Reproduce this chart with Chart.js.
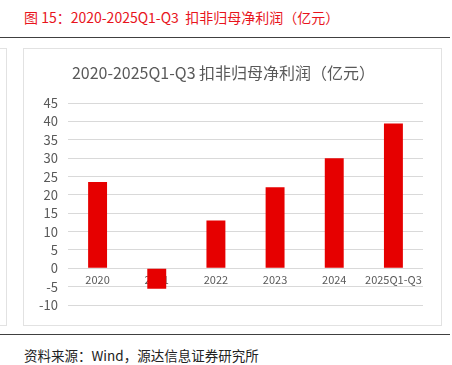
<!DOCTYPE html>
<html>
<head>
<meta charset="utf-8">
<script src="https://cdn.jsdelivr.net/npm/chart.js@4"></script>
<style>
    body { margin: 0; background: #fff; width: 452px; height: 365px; position: relative; overflow: hidden;
           font-family: "Noto Sans CJK SC", "Noto Sans", sans-serif; }
    .fig-title { position: absolute; left: 24px; top: 7px; font-size: 14px; color: #e8141c; white-space: nowrap; }
    .rule { position: absolute; left: 0; width: 450px; height: 1px; background: #404040; }
    .side-box { position: absolute; left: -100px; top: 48px; width: 105px; height: 276px; border: 1px solid #e2e2e2; }
    .chart-box { position: absolute; left: 23px; top: 48px; width: 417px; height: 276px; border: 1px solid #e2e2e2; }
    .source { position: absolute; left: 24px; top: 345px; font-size: 13.5px; color: #222; white-space: nowrap; }
</style>
</head>
<body>
<div class="fig-title">图 15：2020-2025Q1-Q3&nbsp; 扣非归母净利润（亿元）</div>
<div class="rule" style="top:37px"></div>
<div class="side-box"></div>
<div class="chart-box"><canvas id="profit-chart" width="417" height="276"></canvas></div>
<div class="rule" style="top:334px"></div>
<div class="source">资料来源：Wind，源达信息证券研究所</div>

<script>
// Chart data
const categories = ['2020', '2021', '2022', '2023', '2024', '2025Q1-Q3'];
const netProfit = [23.5, -5.6, 13.0, 22.1, 30.0, 39.5];
const yTicks = [-10, -5, 0, 5, 10, 15, 20, 25, 30, 35, 40, 45];

const TICK_COLOR = '#595959';
const GRID_COLOR = '#d9d9d9';

function initializeProfitChart() {
    const ctx = document.getElementById('profit-chart').getContext('2d');
    return new Chart(ctx, {
        type: 'bar',
        data: {
            labels: categories,
            datasets: [{
                label: '扣非归母净利润',
                data: netProfit,
                backgroundColor: '#e60000',
                categoryPercentage: 1,
                barPercentage: 0.32
            }]
        },
        options: {
            responsive: false,
            animation: false,
            layout: {
                padding: { left: 0, right: 18, top: 0, bottom: 20 }
            },
            plugins: {
                legend: { display: false },
                tooltip: { enabled: false },
                title: {
                    display: true,
                    text: '2020-2025Q1-Q3 扣非归母净利润（亿元）',
                    color: '#595959',
                    font: { size: 16, family: '"Noto Sans CJK SC", sans-serif', weight: 'normal' },
                    padding: { top: 14, bottom: 21 }
                }
            },
            scales: {
                x: {
                    position: { y: 0 },
                    grid: { display: false, drawTicks: false },
                    border: { display: false },
                    ticks: {
                        color: TICK_COLOR,
                        padding: 5,
                        maxRotation: 0,
                        autoSkip: false,
                        font: { size: 11, family: '"Noto Sans CJK SC", sans-serif' }
                    }
                },
                y: {
                    min: yTicks[0],
                    max: yTicks[yTicks.length - 1],
                    afterFit: (scale) => { scale.width = 44; },
                    afterBuildTicks: (scale) => {
                        scale.ticks = yTicks.map(v => ({ value: v }));
                    },
                    grid: { color: GRID_COLOR, drawTicks: false },
                    border: { display: false },
                    ticks: {
                        color: TICK_COLOR,
                        padding: 10,
                        autoSkip: false,
                        font: { size: 13, family: '"Noto Sans CJK SC", sans-serif' }
                    }
                }
            }
        }
    });
}

window.profitChart = initializeProfitChart();
</script>
</body>
</html>
